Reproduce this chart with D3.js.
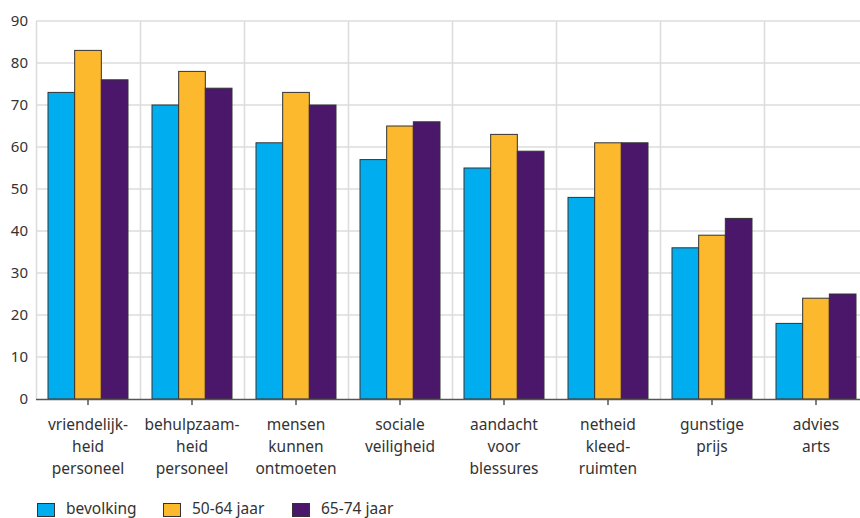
<!DOCTYPE html>
<html><head><meta charset="utf-8">
<script src="https://cdn.jsdelivr.net/npm/d3@7"></script>
<style>body{margin:0;background:#fff}svg{display:block}text{font-family:"Noto Sans",sans-serif;fill:#333}</style>
</head><body><svg id="c" width="860" height="518"></svg>
<script>
const categories = [["vriendelijk-","heid","personeel"],["behulpzaam-","heid","personeel"],["mensen","kunnen","ontmoeten"],["sociale","veiligheid"],["aandacht","voor","blessures"],["netheid","kleed-","ruimten"],["gunstige","prijs"],["advies","arts"]];
const seriesNames = ["bevolking","50-64 jaar","65-74 jaar"];
const bevolking = [73,70,61,57,55,48,36,18];
const jaar5064 = [83,78,73,65,63,61,39,24];
const jaar6574 = [76,74,70,66,59,61,43,25];
const yTicks = [0,10,20,30,40,50,60,70,80,90];
const colors = ["#00aeef","#fdb92e","#4a176b"];
const series = [bevolking, jaar5064, jaar6574];

const svg = d3.select("#c");
const mLeft = 36, bandW = 104, mTop = 21, mBottom = 399;
const x = d3.scaleBand().domain(d3.range(categories.length)).range([mLeft, mLeft + bandW*categories.length]).paddingInner(0).paddingOuter(0);
const inner = d3.scaleBand().domain(d3.range(3)).range([12, bandW-12]);
const y = d3.scaleLinear().domain([0,90]).range([mBottom, mTop]);

// horizontal grid
svg.append("g").selectAll("line").data(yTicks.filter(d=>d>0)).join("line")
  .attr("x1", mLeft).attr("x2", 860).attr("y1", d=>y(d)).attr("y2", d=>y(d))
  .attr("stroke","#dcdcdc").attr("stroke-width",1.5);
// vertical grid
svg.append("g").selectAll("line").data(d3.range(categories.length+1)).join("line")
  .attr("x1", d=>mLeft + d*bandW + 0.5).attr("x2", d=>mLeft + d*bandW + 0.5).attr("y1", mTop).attr("y2", mBottom)
  .attr("stroke","#dcdcdc").attr("stroke-width",1.5);

// bars
series.forEach((s,i)=>{
  svg.append("g").selectAll("rect").data(s).join("rect")
    .attr("x",(d,j)=>x(j)+inner(i)).attr("width",inner.bandwidth())
    .attr("y",d=>y(d)).attr("height",d=>mBottom-y(d))
    .attr("fill",colors[i]).attr("stroke","#333").attr("stroke-width",1);
});

// y axis labels
svg.append("g").selectAll("text").data(yTicks).join("text")
  .attr("x",28).attr("y",d=>y(d)+5).attr("text-anchor","end").attr("font-size",15).text(d=>d);

// x axis
svg.append("line").attr("x1",mLeft).attr("x2",860).attr("y1",mBottom+0.5).attr("y2",mBottom+0.5).attr("stroke","#555").attr("stroke-width",1.5);
svg.append("g").selectAll("line").data(d3.range(categories.length)).join("line")
  .attr("x1",d=>x(d)+bandW/2).attr("x2",d=>x(d)+bandW/2).attr("y1",mBottom).attr("y2",mBottom+6)
  .attr("stroke","#555").attr("stroke-width",1.5);
const lab = svg.append("g").selectAll("text").data(categories).join("text")
  .attr("text-anchor","middle").attr("font-size",15.5);
lab.each(function(d,j){
  d3.select(this).selectAll("tspan").data(d).join("tspan")
    .attr("x",x(j)+bandW/2).attr("y",(t,k)=>430+k*22).text(t=>t);
});

// legend
const lx = [37,163,292];
const lg = svg.append("g").selectAll("g").data(seriesNames).join("g");
lg.append("rect").attr("x",(d,i)=>lx[i]+0.5).attr("y",503.5).attr("width",17).attr("height",13)
  .attr("fill",(d,i)=>colors[i]).attr("stroke","#333").attr("stroke-width",1);
lg.append("text").attr("x",(d,i)=>lx[i]+29).attr("y",514).attr("font-size",15.5).text(d=>d);
</script></body></html>
